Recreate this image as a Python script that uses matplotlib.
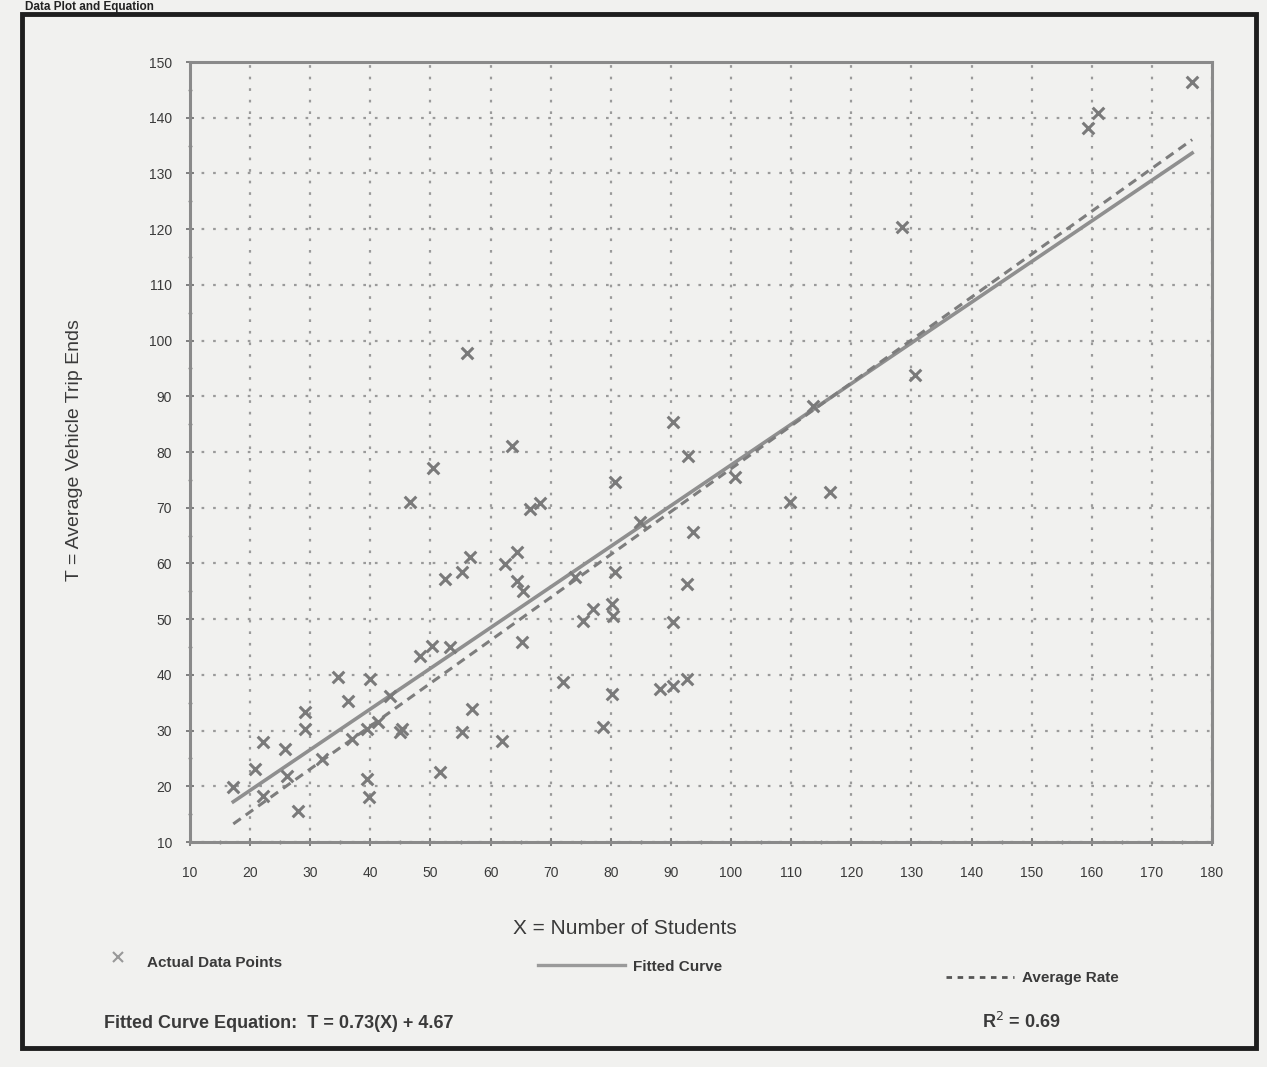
import matplotlib.pyplot as plt
import numpy as np
from matplotlib.lines import Line2D
from matplotlib.patches import Rectangle

# Data
students = [17.2, 20.8, 22.2, 22.2, 25.8, 26.1, 28.0, 29.1, 29.1, 32.0,
            34.6, 36.3, 37.0, 39.5, 39.5, 39.7, 40.0, 41.3, 43.3, 45.0,
            45.3, 46.6, 48.3, 50.3, 50.4, 51.6, 52.4, 53.3, 55.3, 55.3,
            56.0, 56.6, 56.9, 61.9, 62.4, 63.6, 64.4, 64.4, 65.2, 65.4,
            66.6, 68.2, 72.0, 74.0, 75.4, 77.0, 78.7, 80.2, 80.2, 80.4,
            80.7, 80.7, 84.9, 88.2, 90.4, 90.4, 90.4, 92.7, 92.7, 92.9,
            93.7, 100.7, 109.8, 113.7, 116.5, 128.5, 130.6, 159.4, 161.0,
            176.7]
trip_ends = [19.9, 23.1, 27.9, 18.3, 26.7, 21.9, 15.6, 33.3, 30.3, 24.9,
             39.6, 35.3, 28.5, 30.3, 21.3, 18.1, 39.2, 31.5, 36.2, 29.7,
             30.3, 71.1, 43.4, 45.2, 77.2, 22.6, 57.2, 45.0, 58.4, 29.8,
             97.8, 61.1, 33.9, 28.1, 59.9, 81.0, 62.0, 56.8, 45.9, 55.0,
             69.7, 70.9, 38.7, 57.5, 49.6, 51.8, 30.6, 52.7, 36.6, 50.6,
             58.4, 74.7, 67.4, 37.5, 38.0, 49.4, 85.3, 39.2, 56.3, 79.2,
             65.6, 75.6, 71.1, 88.2, 72.9, 120.4, 93.9, 138.2, 140.9,
             146.4]

fit_slope = 0.73
fit_intercept = 4.67
avg_rate = 0.77
r_squared = "0.69"

x_ticks = list(range(10, 181, 10))
y_ticks = list(range(10, 151, 10))

paper = '#f1f1ef'
ink = '#3a3a3a'

plt.rcParams['font.family'] = ['Liberation Sans Narrow', 'Liberation Sans', 'DejaVu Sans']

fig = plt.figure(figsize=(12.67, 10.67), dpi=100)
fig.set_facecolor(paper)

W, H = 1267, 1067
ax = fig.add_axes([190 / W, 1 - 842 / H, (1212 - 190) / W, (842 - 62) / H])
ax.set_facecolor(paper)

# lines
xs = np.array([min(students), max(students)])
ax.plot(xs, fit_slope * xs + fit_intercept, color='#8f8f8f', lw=2.6, zorder=3)
ax.plot(xs, avg_rate * xs, color='#7d7d7d', lw=2.2, ls=(0, (3, 2)), zorder=3)

# points
ax.scatter(students, trip_ends, marker='x', s=70, color='#7a7a7a',
           linewidths=2.2, zorder=4)

ax.set_xlim(10, 180)
ax.set_ylim(10, 150)
ax.set_xticks(x_ticks)
ax.set_yticks(y_ticks)
ax.set_xticks(np.arange(15, 180, 10), minor=True)
ax.set_yticks(np.arange(15, 150, 10), minor=True)
ax.grid(True, which='major', color='#9a9a9a', ls=(0, (1.2, 4)), lw=1.6)
ax.tick_params(which='major', length=6, width=1.3, color='#777777',
               labelsize=10, labelcolor=ink, direction='inout')
ax.tick_params(which='minor', length=3, width=1, color='#888888', direction='inout')
ax.tick_params(axis='x', pad=14)
ax.tick_params(axis='y', pad=10)
for s in ax.spines.values():
    s.set_color('#8a8a8a')
    s.set_linewidth(2.2)

# axis titles
fig.text(625 / W, 1 - 928 / H, 'X = Number of Students', ha='center', va='center',
         fontsize=15, color=ink)
fig.text(75 / W, 1 - 450 / H, 'T = Average Vehicle Trip Ends', ha='center', va='center',
         rotation=90, fontsize=14, color=ink)

# legend row
fig.add_artist(Line2D([118 / W], [1 - 957 / H], marker='x', ms=7, mew=1.5,
                      color='#999999', ls='none'))
fig.text(147 / W, 1 - 963 / H, 'Actual Data Points', ha='left', va='center',
         fontsize=11, fontweight='bold', color=ink)
fig.add_artist(Line2D([538 / W, 625 / W], [1 - 965 / H] * 2, color='#9a9a9a', lw=2.4))
fig.text(633 / W, 1 - 967 / H, 'Fitted Curve', ha='left', va='center',
         fontsize=11, fontweight='bold', color=ink)
fig.add_artist(Line2D([946 / W, 1014 / W], [1 - 977 / H] * 2, color='#555555', lw=2,
                      ls=(0, (2, 2))))
fig.text(1022 / W, 1 - 978 / H, 'Average Rate', ha='left', va='center',
         fontsize=11, fontweight='bold', color=ink)

fig.text(104 / W, 1 - 1023 / H,
         'Fitted Curve Equation:  T = %.2f(X) + %.2f' % (fit_slope, fit_intercept),
         ha='left', va='center', fontsize=13, fontweight='bold', color=ink)
fig.text(982 / W, 1 - 1022 / H, r'R$^2$ = ' + r_squared, ha='left', va='center',
         fontsize=13, fontweight='bold', color=ink)

# scanned frame and title above it
fig.add_artist(Rectangle((22 / W, 1 - 1048 / H), (1256 - 22) / W, (1048 - 14) / H,
                         fill=False, ec='#1e1e1e', lw=3.5))
fig.text(25 / W, 1 - 10 / H, 'Data Plot and Equation', ha='left', va='baseline',
         fontsize=8.5, fontweight='bold', color='#222222')

fig.savefig('out.png', dpi=100, facecolor=paper)
